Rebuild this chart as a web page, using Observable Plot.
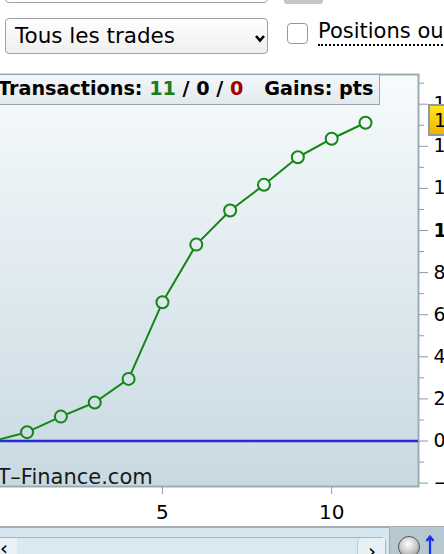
<!DOCTYPE html>
<html><head><meta charset="utf-8">
<script src="https://cdn.jsdelivr.net/npm/d3@7"></script>
<script src="https://cdn.jsdelivr.net/npm/@observablehq/plot@0.6"></script>
<style>
body{margin:0;background:#fff;font-family:"DejaVu Sans",sans-serif;}
#page{position:relative;width:444px;height:554px;overflow:hidden;background:#fff;}
.abs{position:absolute;box-sizing:border-box;}
#topbox{left:5px;top:-12px;width:263px;height:15px;border:1px solid #9aa3ab;border-radius:4px;background:#fff;}
#topgray{left:284px;top:-6px;width:39px;height:10px;background:#c6c6c6;border-radius:3px;}
#select{left:5px;top:18px;width:263px;height:36px;border:1px solid #9aa3ab;border-radius:4px;background:linear-gradient(#ffffff,#efefef);font-size:21.5px;color:#000;padding-left:9px;line-height:34px;}
#select svg{position:absolute;left:243px;top:13px;}
#check{left:287px;top:23px;width:21px;height:21px;border:1.5px solid #8f9aa3;border-radius:4px;background:#fff;}
#pos{left:318px;top:19px;font-size:21px;line-height:25px;white-space:nowrap;border-bottom:2px dotted #000;color:#000;}
#chart{left:0;top:72px;}
#info{left:-10px;top:74px;width:390px;height:31px;border:1.5px solid #9aa7af;background:linear-gradient(#f4f7f9,#e2e9ed);font-weight:bold;font-size:19.2px;line-height:28px;padding-left:7px;white-space:nowrap;color:#000;}
#badge{left:428px;width:40px;height:32px;border:2px solid #8d9ba4;background:linear-gradient(#ffe61c,#f2b400);font-size:19px;line-height:28px;padding-left:4px;color:#000;}
#bottom{left:0;top:526px;width:444px;height:30px;border-top:2px solid #a3aeb5;background:#d6e6ef;}
#track{left:-6px;top:537px;width:392px;height:30px;border:1px solid #a9b6bd;border-radius:5px;background:#d9e9f1;}
#lbtn{left:0;top:538px;width:17px;height:20px;background:#eaf2f6;font-size:20px;line-height:20px;}
#rbtn{left:357px;top:538px;width:28px;height:20px;background:#e6f0f5;border-left:1px solid #b9c6cd;border-top-left-radius:5px;font-size:20px;line-height:26px;padding-left:10px;}
#corner{left:389px;top:527px;width:55px;height:30px;background:#b7c7d0;border-left:1px solid #9fadb5;}
#sphere{left:398px;top:536px;width:22px;height:22px;border-radius:50%;background:radial-gradient(circle at 45% 35%,#ffffff,#c9c9c9 50%,#7d7d7d);border:1px solid #555;}
</style></head><body>
<div id="page">
  <div id="topbox" class="abs"></div>
  <div id="topgray" class="abs"></div>
  <div id="select" class="abs">Tous les trades<svg width="18" height="12"><polyline points="7,4 11,8.5 15,4" fill="none" stroke="#000" stroke-width="2.6"/></svg></div>
  <div id="check" class="abs"></div>
  <div id="pos" class="abs">Positions ouvertes</div>
  <div id="chart" class="abs"></div>
  <div id="info" class="abs"></div>
  <div id="badge" class="abs"></div>
  <div id="bottom" class="abs"></div>
  <div id="track" class="abs"></div>
  <div id="lbtn" class="abs">‹</div>
  <div id="rbtn" class="abs">›</div>
  <div id="corner" class="abs"></div>
  <div id="sphere" class="abs"></div>
  <svg class="abs" style="left:425px;top:535px" width="10" height="20"><path d="M5,2 V20 M1.5,6 L5,1.5 L8.5,6" fill="none" stroke="#1530f0" stroke-width="2.2"/></svg>
</div>
<script>
// ---- data ----
const trades = [0, 1, 2, 3, 4, 5, 6, 7, 8, 9, 10, 11];
const gains = [0, 0.42, 1.16, 1.83, 2.95, 6.59, 9.33, 10.95, 12.17, 13.48, 14.36, 15.12];
const xTicks = [5, 10];
const yMajorTicks = [-2, 0, 2, 4, 6, 8, 12, 14, 16];
const yBoldTicks = [10];
const yMinorTicks = [-1, 1, 3, 5, 7, 9, 11, 13, 15, 17];
const transactionCounts = [11, 0, 0];
const watermark = ["T–Finance.com"];

const data = trades.map((t, i) => ({t, g: gains[i]}));
const tickColor = "#8d9ba5";

const chart = Plot.plot({
  width: 444,
  height: 454,
  marginLeft: -3,
  marginRight: 26,
  marginTop: 2,
  marginBottom: 40,
  style: {fontFamily: "DejaVu Sans, sans-serif", fontSize: "19px", background: "transparent", color: "#000"},
  x: {domain: [0.127, 12.565]},
  y: {domain: [-2.161, 17.411]},
  marks: [
    Plot.frame({fill: "url(#panelbg)", stroke: "#9eacb4", strokeWidth: 2}),
    Plot.text(watermark, {frameAnchor: "bottom-left", dx: 0, dy: -3, textAnchor: "start", lineAnchor: "bottom", fontSize: 21, fill: "#1a1a1a"}),
    Plot.ruleY([0], {stroke: "#2a2ad8", strokeWidth: 2.5}),
    Plot.line(data, {x: "t", y: "g", stroke: "#138613", strokeWidth: 2}),
    Plot.dot(data, {x: "t", y: "g", r: 6, stroke: "#138613", strokeWidth: 2, fill: "url(#panelbg)"}),
    Plot.axisY(yMinorTicks, {anchor: "right", tickSize: 5, tickFormat: () => "", stroke: tickColor, label: null}),
    Plot.axisY(yMajorTicks, {anchor: "right", tickSize: 9, tickPadding: 6, stroke: tickColor, color: "#000", fontSize: 19, label: null}),
    Plot.axisY(yBoldTicks, {anchor: "right", tickSize: 9, tickPadding: 6, stroke: tickColor, color: "#000", fontSize: 19, fontWeight: "bold", label: null}),
    Plot.axisX(xTicks, {anchor: "bottom", tickSize: 8, tickPadding: 10, stroke: tickColor, color: "#000", fontSize: 20, label: null})
  ]
});

const yRange = chart.scale("y").range;
const ns = "http://www.w3.org/2000/svg";
const defs = document.createElementNS(ns, "defs");
defs.innerHTML = `<linearGradient id="panelbg" gradientUnits="userSpaceOnUse" x1="0" y1="${Math.min(...yRange)}" x2="0" y2="${Math.max(...yRange)}"><stop offset="0" stop-color="#f7fbfc"/><stop offset="1" stop-color="#c8d9e2"/></linearGradient>`;
chart.insertBefore(defs, chart.firstChild);
document.getElementById("chart").appendChild(chart);

// info box
const info = document.getElementById("info");
info.innerHTML = `Transactions: <span style="color:#1b7d1b">${transactionCounts[0]}</span> / ${transactionCounts[1]} / <span style="color:#a30000">${transactionCounts[2]}</span><span style="margin-left:21px">Gains: pts</span>`;

// last value badge
const last = gains[gains.length - 1];
const yc = chart.scale("y").apply(last) + 72;
const badge = document.getElementById("badge");
badge.style.top = (yc - 18) + "px";
badge.textContent = last.toFixed(2);
</script>
</body></html>
